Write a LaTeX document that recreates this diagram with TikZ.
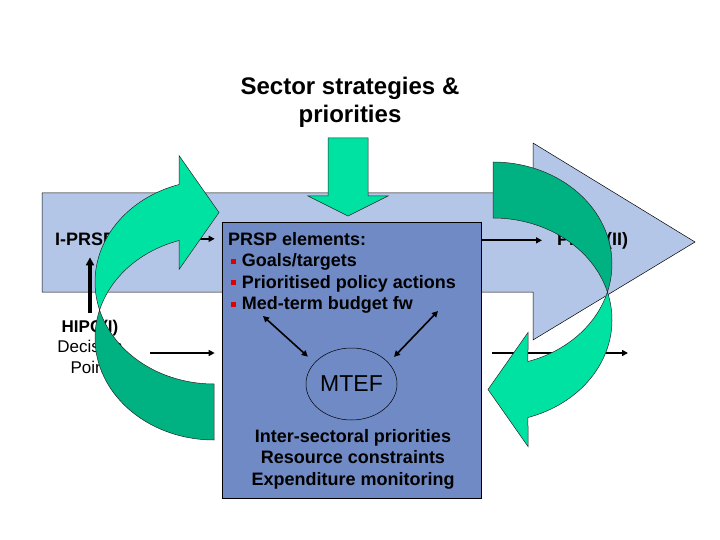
\documentclass[tikz,border=0pt]{standalone}
\usepackage{fontspec}
\setmainfont{Liberation Sans}
\usetikzlibrary{positioning, arrows.meta, shapes.geometric, calc}
\definecolor{sky}{HTML}{B4C6E8}
\definecolor{slate}{HTML}{6F8AC5}
\definecolor{mint}{HTML}{00E2A2}
\definecolor{deepmint}{HTML}{00B282}
\definecolor{bulred}{HTML}{E00000}

\newcommand{\sqbul}{{\color{bulred}\rule[0.18em]{0.26em}{0.26em}}}
% twisted band: tail bottom right, head top right
\newcommand{\curvedloop}{%
  \filldraw[backband] plot[domain=90:195.93] ({214+119*cos(\x)},{338+102*sin(\x)})
    -- plot[domain=164.07:90] ({214+119*cos(\x)},{282+102*sin(\x)}) -- cycle;
  \filldraw[frontband] plot[domain=164.07:252.9] ({214+119*cos(\x)},{282+102*sin(\x)})
    -- (179,155.5) -- (219,212.5) -- (179,269.5)
    -- plot[domain=252.9:195.93] ({214+119*cos(\x)},{338+102*sin(\x)}) -- cycle;}

\begin{document}
\begin{tikzpicture}[x=1pt, y=-1pt, samples=40,
  lbl/.style={font=\fontsize{18}{21.5}\selectfont\bfseries, inner sep=0pt},
  arr/.style={-{Triangle[length=6pt,width=6pt]}, line width=1.8pt},
  backband/.style={fill=deepmint, draw=black!85, line width=0.5pt},
  frontband/.style={fill=mint, draw=black!85, line width=0.5pt}]
  \useasboundingbox (0,0) rectangle (720,540);
  % wide arrow in the back
  \filldraw[fill=sky, draw=black, line width=0.5pt]
    (42,193) -- (533,193) -- (533,143) -- (695,242) -- (533,340) -- (533,292) -- (42,292) -- cycle;
  % title and down arrow
  \node[font=\fontsize{24}{28}\selectfont\bfseries, align=center] (sector) at (350,102) {Sector strategies \&\\priorities};
  \filldraw[fill=mint, draw=black!85, line width=0.5pt]
    (328,138) -- (368,138) -- (368,196) -- (388,196) -- (348,216) -- (308,196) -- (328,196) -- cycle;
  % central box
  \node[draw=black, line width=0.6pt, fill=slate, minimum width=259, minimum height=276, inner sep=0pt] (core) at (351.5,360) {};
  \node[lbl, anchor=north west, align=left] (elements) at (228,232) {PRSP elements:\\
    \hspace*{3pt}\sqbul\hspace{6pt}Goals/targets\\
    \hspace*{3pt}\sqbul\hspace{6pt}Prioritised policy actions\\
    \hspace*{3pt}\sqbul\hspace{6pt}Med-term budget fw};
  \node[ellipse, draw=black, line width=0.5pt, minimum width=91, minimum height=72, inner sep=0pt,
        font=\fontsize{23}{27}\selectfont] (mtef) at (351.5,384) {MTEF};
  \node[lbl, anchor=north, align=center] (mtefnotes) at (353,429)
    {Inter-sectoral priorities\\Resource constraints\\Expenditure monitoring};
  \coordinate (goalsl) at (263,316);
  \coordinate (goalsr) at (438,311);
  \draw[{Triangle[length=6pt,width=6pt]}-{Triangle[length=6pt,width=6pt]}, line width=1.6pt, shorten >=9pt] (goalsl) -- (mtef.150);
  \draw[{Triangle[length=6pt,width=6pt]}-{Triangle[length=6pt,width=6pt]}, line width=1.6pt, shorten >=8pt] (goalsr) -- (mtef.30);
  % side labels
  \node[lbl, anchor=base west] (iprsp) at (55,245) {I-PRSP};
  \node[lbl, anchor=base west] (prspii) at (557,245) {PRSP(II)};
  \node[font=\fontsize{17}{20.5}\selectfont, align=center, anchor=north, inner sep=0pt] (hipc) at (90,319.5)
    {\textbf{HIPC(I)}\\Decision\\Point};
  % flow arrows
  \draw[arr, shorten >=7pt] (iprsp.east) -- (iprsp.east -| core.west);
  \draw[arr, shorten >=15pt] (core.east |- prspii.west) -- (prspii.west);
  \draw[arr, line width=3.5pt, -{Triangle[length=8pt,width=8pt]}, shorten <=7pt, shorten >=12pt]
    (hipc.north) -- (hipc.north |- iprsp.south);
  \coordinate (dpfrom) at (150,353);
  \coordinate (dpto) at (628,353);
  \draw[arr, shorten >=7pt] (dpfrom) -- (dpfrom -| core.west);
  \draw[arr, shorten <=11pt] (dpto -| core.east) -- (dpto);
  % feedback loops on top
  \curvedloop
  \begin{scope}[rotate around={180:(353.5,301)}]
    \curvedloop
  \end{scope}
\end{tikzpicture}
\end{document}
